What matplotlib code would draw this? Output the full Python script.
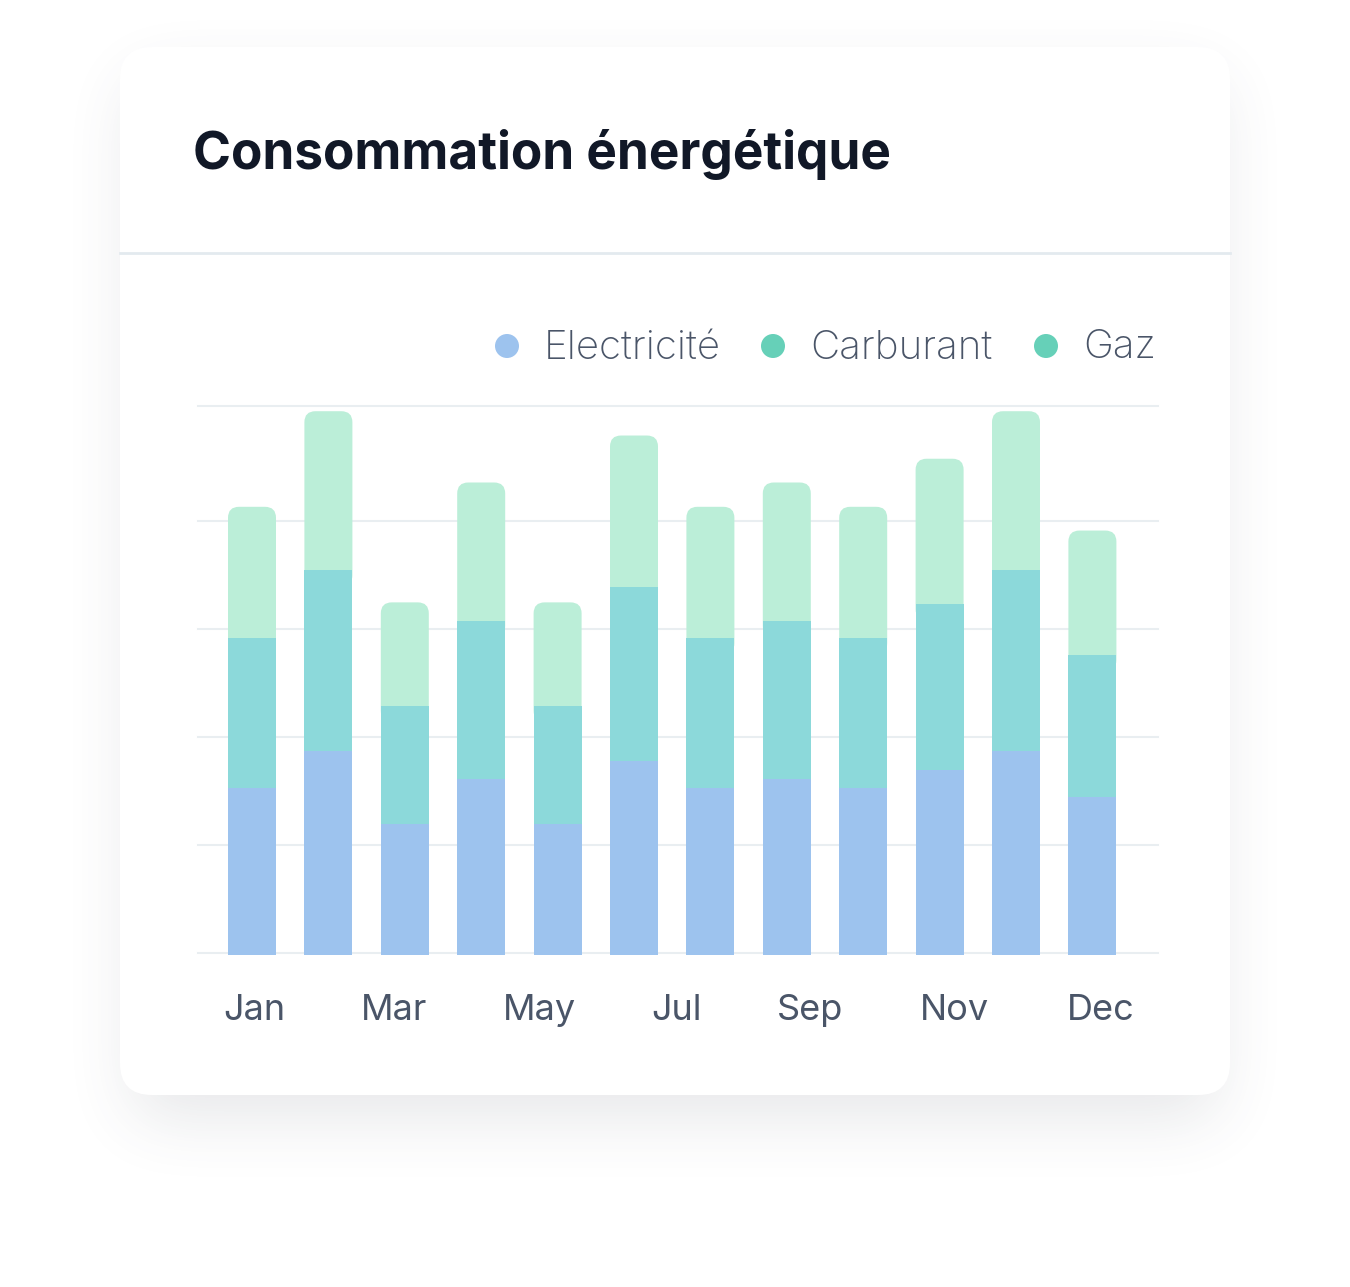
import numpy as np
import matplotlib.pyplot as plt
from matplotlib.patches import FancyBboxPatch, Circle

# Données
mois = ["Jan", "Feb", "Mar", "Apr", "May", "Jun", "Jul", "Aug", "Sep", "Oct", "Nov", "Dec"]
electricite = [30.9, 37.8, 24.3, 32.6, 24.3, 35.9, 30.9, 32.6, 30.9, 34.3, 37.8, 29.3]
carburant = [27.8, 33.5, 21.9, 29.3, 21.9, 32.2, 27.8, 29.3, 27.8, 30.7, 33.5, 26.3]
gaz = [24.3, 29.4, 19.1, 25.6, 19.1, 28.1, 24.3, 25.6, 24.3, 26.9, 29.4, 23.0]
etiquettes_x = ["Jan", "Mar", "May", "Jul", "Sep", "Nov", "Dec"]
series = ["Electricité", "Carburant", "Gaz"]

c_elec = "#9dc3ee"
c_carb = "#8cd9da"
c_gaz = "#bbeed8"
c_dots = ["#9dc3ee", "#66d0b8", "#66d0b8"]
c_texte = "#4a5568"

W, H = 1350, 1287
fig = plt.figure(figsize=(W / 100, H / 100), dpi=100)
fig.patch.set_facecolor("white")

# Fond : carte + ombre, en coordonnées pixel
bg = fig.add_axes([0, 0, 1, 1])
bg.set_xlim(0, W)
bg.set_ylim(H, 0)
bg.axis("off")

cx0, cy0, cx1, cy1 = 120, 47, 1230, 1095
rayon = 32


def masque_arrondi(x0, y0, x1, y1, r):
    yy, xx = np.mgrid[0:H, 0:W] + 0.5
    dx = np.maximum(np.maximum(x0 + r - xx, xx - (x1 - r)), 0)
    dy = np.maximum(np.maximum(y0 + r - yy, yy - (y1 - r)), 0)
    return (np.hypot(dx, dy) <= r) & (xx >= x0) & (xx <= x1) & (yy >= y0) & (yy <= y1)


def flou_boite(a, k, axe):
    pad = [(0, 0), (0, 0)]
    pad[axe] = (k, k)
    p = np.pad(a, pad, mode="constant")
    c = np.cumsum(p, axis=axe)
    c = np.insert(c, 0, 0, axis=axe)
    n = a.shape[axe]
    if axe == 0:
        return (c[2 * k + 1:2 * k + 1 + n] - c[0:n]) / (2 * k + 1)
    return (c[:, 2 * k + 1:2 * k + 1 + n] - c[:, 0:n]) / (2 * k + 1)


ombre = masque_arrondi(cx0 + 10, cy0 + 30, cx1 - 10, cy1 + 25, rayon).astype(float)
for _ in range(3):
    ombre = flou_boite(ombre, 30, 0)
    ombre = flou_boite(ombre, 30, 1)
rgba = np.zeros((H, W, 4))
rgba[..., :3] = np.array([0.30, 0.32, 0.38])
rgba[..., 3] = ombre * 0.13
bg.imshow(rgba, extent=(0, W, H, 0), zorder=1, interpolation="bilinear")
bg.set_xlim(0, W)
bg.set_ylim(H, 0)

bg.add_patch(FancyBboxPatch((cx0, cy0), cx1 - cx0, cy1 - cy0,
                            boxstyle="round,pad=0,rounding_size=%d" % rayon,
                            facecolor="white", edgecolor="none", zorder=2))
bg.plot([cx0, cx1], [253, 253], color="#e3eaef", lw=2, zorder=3)

bg.text(193, 155, "Consommation énergétique", fontsize=37, fontweight="bold",
        color="#111827", va="center", ha="left", family="Inter", zorder=4)

# Légende
legende_x = [507, 773, 1046]
for nom, couleur, x in zip(series, c_dots, legende_x):
    bg.add_patch(Circle((x, 346), 12, facecolor=couleur, edgecolor="none", zorder=4))
    bg.text(x + 37, 348, nom, fontsize=29, color=c_texte, va="center", ha="left",
            family="Inter", fontweight="light", zorder=4)

# Graphique
ax_l, ax_r, ax_t, ax_b = 198, 1158, 408, 955
ax = fig.add_axes([ax_l / W, 1 - ax_b / H, (ax_r - ax_l) / W, (ax_b - ax_t) / H])
ax.set_zorder(5)
ax.patch.set_alpha(0)

x = np.arange(len(mois))
px_par_x = 76.4
xmin = -(252 - ax_l) / px_par_x
xmax = xmin + (ax_r - ax_l) / px_par_x
px_par_y = 5.4
ymax = (ax_b - ax_t) / px_par_y
ax.set_xlim(xmin, xmax)
ax.set_ylim(0, ymax)

largeur = 48 / px_par_x
r_px = 11
r_x = r_px / px_par_x
aspect = (r_px / px_par_y) / r_x

elec = np.array(electricite)
carb = np.array(carburant)
gz = np.array(gaz)

ax.bar(x, elec, width=largeur, color=c_elec, zorder=3)
ax.bar(x, carb, bottom=elec, width=largeur, color=c_carb, zorder=3)
for xi, b, h in zip(x, elec + carb, gz):
    ax.add_patch(FancyBboxPatch((xi - largeur / 2, b - 3), largeur, h + 3,
                                boxstyle="round,pad=0,rounding_size=%f" % r_x,
                                mutation_aspect=aspect, facecolor=c_gaz,
                                edgecolor="none", zorder=2))

decalage = 2 / px_par_y
for y in [0, 20, 40, 60, 80]:
    ax.axhline(y + decalage, color="#e9eef1", lw=1.5, zorder=1, clip_on=False)
ax.axhline((ax_b - 406) / px_par_y, color="#e9eef1", lw=1.5, zorder=1, clip_on=False)

# positions des étiquettes (en index de mois, comme sur l'original)
pos_etiquettes = [0.03, 1.86, 3.76, 5.56, 7.31, 9.20, 11.11]
ax.set_xticks(pos_etiquettes)
ax.set_xticklabels(etiquettes_x, fontsize=26, color=c_texte, family="Inter")
ax.tick_params(axis="x", length=0, pad=28)
ax.set_yticks([])
for s in ax.spines.values():
    s.set_visible(False)

plt.savefig("out.png", dpi=100)
plt.close()
